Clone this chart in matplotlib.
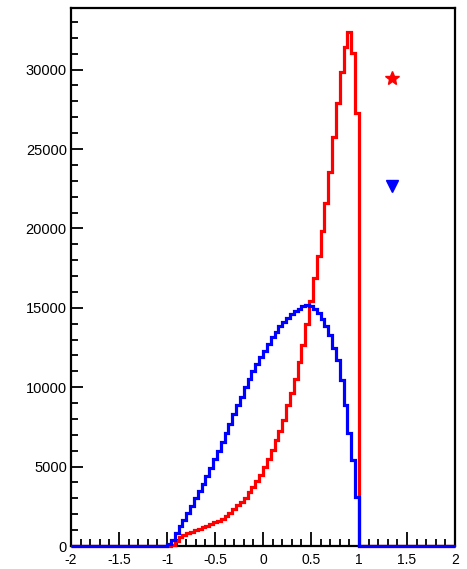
import numpy as np
import matplotlib
matplotlib.use("Agg")
import matplotlib.pyplot as plt
from matplotlib.ticker import MultipleLocator

plt.rcParams['font.family'] = ['Liberation Sans', 'DejaVu Sans']

# histogram binning: 100 bins on [-2, 2]
edges = np.linspace(-2, 2, 101)

# bin contents for the non-empty range [-1, 1] (50 bins of 0.04)
red_counts = [0, 60, 330, 590, 710, 820, 900, 990, 1080, 1180,
              1290, 1380, 1480, 1580, 1720, 1880, 2080, 2320, 2560, 2800,
              3050, 3380, 3720, 4080, 4450, 4950, 5480, 6050, 6650, 7220,
              7930, 8900, 9650, 10500, 11580, 12650, 14000, 15400, 16860, 18260,
              19860, 21580, 23570, 25780, 27920, 29870, 31440, 32350, 31030, 27290]
blue_counts = [150, 400, 800, 1250, 1650, 2100, 2550, 3000, 3450, 3900,
               4400, 4900, 5450, 6000, 6550, 7100, 7700, 8300, 8850, 9400,
               10000, 10500, 11000, 11450, 11900, 12300, 12750, 13150, 13500, 13850,
               14100, 14350, 14600, 14800, 14950, 15100, 15200, 15100, 14920, 14650,
               14300, 13870, 13290, 12490, 11710, 10450, 8900, 7100, 5400, 3100]
empty = [0] * 25

# the two marker symbols on the right
marker_x = [1.34, 1.34]
marker_y = [29450, 22700]

red = np.array(empty + red_counts + empty)
blue = np.array(empty + blue_counts + empty)

fig = plt.figure(figsize=(4.67, 5.69), dpi=100)
ax = fig.add_axes([71/467, 1-546/569, 384/467, 538/569])

ax.stairs(red, edges, color='#ff0000', lw=2.3, zorder=3, clip_on=False)
ax.stairs(blue, edges, color='#0000ff', lw=2.3, zorder=4, clip_on=False)

ax.plot(marker_x[0], marker_y[0], marker='*', color='#ff0000', ms=10, ls='none', zorder=5)
ax.plot(marker_x[1], marker_y[1], marker='v', color='#0000ff', ms=8, ls='none', zorder=5)

ax.set_xlim(-2, 2)
ax.set_ylim(0, 33880)

ax.xaxis.set_minor_locator(MultipleLocator(0.1))
ax.yaxis.set_major_locator(MultipleLocator(5000))
ax.yaxis.set_minor_locator(MultipleLocator(1000))
ax.set_xticks([-2, -1.5, -1, -0.5, 0, 0.5, 1, 1.5, 2])
ax.set_xticklabels(['-2', '-1.5', '-1', '-0.5', '0', '0.5', '1', '1.5', '2'])

ax.tick_params(axis='x', which='major', direction='in', length=10, width=1.3, pad=5, labelsize=10)
ax.tick_params(axis='x', which='minor', direction='in', length=4.8, width=1.3)
ax.tick_params(axis='y', which='major', direction='in', length=8.5, width=1.3, pad=3, labelsize=10.5)
ax.tick_params(axis='y', which='minor', direction='in', length=4.8, width=1.3)

for s in ax.spines.values():
    s.set_linewidth(1.6)

fig.savefig('out.png', dpi=100)
